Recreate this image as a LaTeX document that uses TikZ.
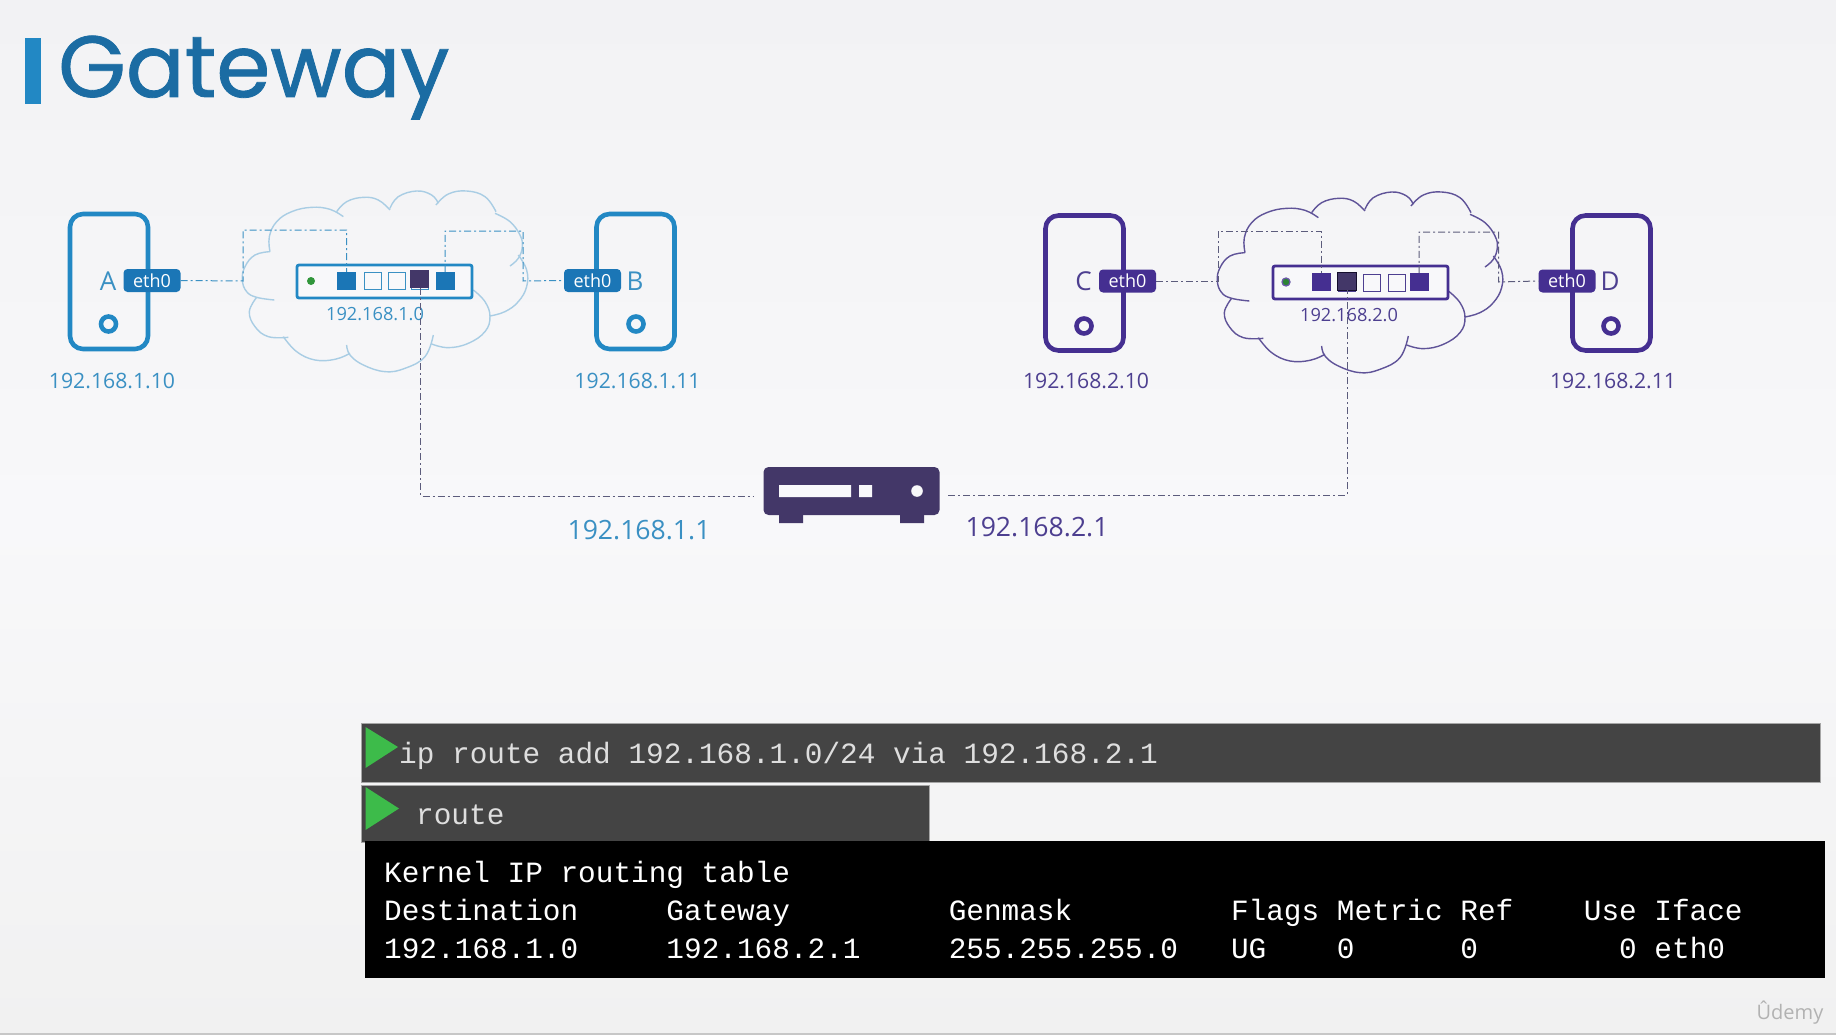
\documentclass[tikz,border=0pt]{standalone}
\usepackage{fontspec}
\setmainfont{Open Sans}
\setmonofont{Liberation Mono}
\newfontfamily\titlefont[FakeBold=0.9]{Poppins}
\usetikzlibrary{calc}
\definecolor{blueM}{HTML}{2288C4}
\definecolor{blueD}{HTML}{1B76B6}
\definecolor{blueT}{HTML}{1B6CA3}
\definecolor{blueL}{HTML}{3A90C3}
\definecolor{cloudB}{HTML}{A9CDE4}
\definecolor{purpM}{HTML}{452F91}
\definecolor{purpL}{HTML}{4D3F90}
\definecolor{cloudP}{HTML}{5F5398}
\definecolor{dark}{HTML}{433768}
\definecolor{linkD}{HTML}{5C5C7C}
\definecolor{barc}{HTML}{444444}
\definecolor{bgT}{HTML}{F2F2F4}
\definecolor{bgM}{HTML}{F8F8FA}
\definecolor{bgB}{HTML}{F1F1F1}
\definecolor{greenT}{HTML}{3DBB4A}
\definecolor{termtxt}{HTML}{DEDEDE}
\tikzset{
  x=1pt,y=-1pt,
  server/.style={draw=#1,line width=4.6pt,rounded corners=13pt,minimum width=78pt,minimum height=135pt,inner sep=0pt},
  led/.style={draw=#1,line width=4.6pt,circle,minimum size=15pt,inner sep=0pt},
  lettr/.style={text=#1,font=\fontsize{26}{26}\selectfont,inner sep=0pt},
  ethtag/.style={fill=#1,rounded corners=4pt,minimum width=57pt,minimum height=23pt,inner sep=0pt,text=white,font=\fontsize{18}{18}\selectfont},
  iplabel/.style={text=#1,font=\fontsize{21.2}{21.2}\selectfont,inner sep=0pt},
  netlabel/.style={text=#1,font=\fontsize{18.2}{18.2}\selectfont,inner sep=0pt},
  gwlabel/.style={text=#1,font=\fontsize{26.6}{26.6}\selectfont,inner sep=0pt},
  switchbox/.style={draw=#1,fill=bgM,line width=2.8pt,rounded corners=2pt,minimum width=175pt,minimum height=33pt,inner sep=0pt},
  portfull/.style={fill=#1,minimum width=19pt,minimum height=18pt,inner sep=0pt},
  portopen/.style={draw=#1,fill=bgM,line width=1pt,minimum width=17pt,minimum height=17pt,inner sep=0pt},
  cloudline/.style={draw=#1,line width=1.4pt,line join=round},
  linkline/.style={draw=#1,line width=1pt,dash pattern=on 7pt off 3pt on 2pt off 3pt},
  bar/.style={fill=barc,draw=black!35,line width=.4pt,inner sep=0pt},
  play/.style={fill=greenT},
  term/.style={font=\ttfamily\fontsize{29.4}{38.5}\selectfont,inner sep=0pt,anchor=base west},
  lobe/.style={smooth,tension=0.7},
}
\newcommand{\cloudoutline}[1]{%
  \draw[cloudline=#1] plot[lobe] coordinates {(105,215) (103,170) (125,125) (170,95) (230,82) (285,88) (325,110)};
  \draw[cloudline=#1] plot[lobe] coordinates {(305,95) (335,65) (385,52) (430,60) (465,90)};
  \draw[cloudline=#1] plot[lobe] coordinates {(465,85) (490,50) (545,33) (590,45) (610,70)};
  \draw[cloudline=#1] plot[lobe] coordinates {(603,75) (640,42) (695,33) (750,50) (783,95)};
  \draw[cloudline=#1] plot[lobe] coordinates {(780,100) (825,125) (855,165) (862,200) (850,235) (825,258)};
  \draw[cloudline=#1] plot[lobe] coordinates {(850,225) (875,270) (875,320) (850,365) (810,395) (765,408)};
  \draw[cloudline=#1] plot[lobe] coordinates {(715,330) (750,365) (765,410) (750,455) (700,490) (640,503) (590,492)};
  \draw[cloudline=#1] plot[lobe] coordinates {(595,465) (570,530) (510,565) (450,575) (385,555) (345,525) (335,495)};
  \draw[cloudline=#1] plot[lobe] coordinates {(345,520) (300,538) (240,540) (185,515) (145,470)};
  \draw[cloudline=#1] plot[lobe] coordinates {(65,352) (43,395) (60,440) (100,470) (160,472)};
  \draw[cloudline=#1] plot[lobe] coordinates {(105,215) (60,225) (30,260) (22,300) (35,335) (65,352) (118,360)};
}
\begin{document}
\begin{tikzpicture}
\useasboundingbox (0,0) rectangle (1836,1035);
\fill[top color=bgT,bottom color=bgB,middle color=bgM] (0,0) rectangle (1836,1035);
\fill[black!22] (0,1033) rectangle (1836,1035);
% title
\fill[blueM] (25,38) rectangle (41,104);
\node[anchor=base west,inner sep=0pt,text=blueT,font=\titlefont\fontsize{87}{87}\selectfont] (title) at (58,97) {Gateway};
% clouds
\begin{scope}[shift={(235,180)},x=.3333pt,y=-.3333pt]
\cloudoutline{cloudB}
\end{scope}
\begin{scope}[shift={(1210,181)},x=.3333pt,y=-.3333pt]
\cloudoutline{cloudP}
\end{scope}
% left network
\node[server=blueM] (A) at (109,281.5) {};
\node[led=blueM] (Aled) at (108.5,324) {};
\node[lettr=blueL] (Al) at (108,281) {A};
\node[ethtag=blueD] (tA) at (152,280.5) {eth0};
\node[iplabel=blueL] (Aip) at (112,381) {192.168.1.10};
\node[server=blueM] (B) at (635.5,281.5) {};
\node[led=blueM] (Bled) at (636,324) {};
\node[lettr=blueL] (Bl) at (635,281) {B};
\node[ethtag=blueD] (tB) at (592.5,280.5) {eth0};
\node[iplabel=blueL] (Bip) at (637.5,381) {192.168.1.11};
% right network
\node[server=purpM] (C) at (1084.5,283) {};
\node[led=purpM] (Cled) at (1084,326) {};
\node[lettr=purpL] (Cl) at (1083.5,281) {C};
\node[ethtag=purpM] (tC) at (1127.5,281) {eth0};
\node[iplabel=purpL] (Cip) at (1086,381) {192.168.2.10};
\node[server=purpM] (D) at (1611.5,283) {};
\node[led=purpM] (Dled) at (1611,326) {};
\node[lettr=purpL] (Dl) at (1610,281) {D};
\node[ethtag=purpM] (tD) at (1567,281) {eth0};
\node[iplabel=purpL] (Dip) at (1613,381) {192.168.2.11};
% switches
\node[switchbox=blueM] (s1) at (384.5,281.5) {};
\node[switchbox=purpM] (s2) at (1360.5,282.5) {};
\node[circle,fill=greenT!80!black,minimum size=8pt,inner sep=0pt] (d1) at (311,281) {};
\node[circle,fill=greenT!70!black,draw=purpM!80,line width=1.3pt,minimum size=8pt,inner sep=0pt] (d2) at (1286,282) {};
\node[portfull=blueD] (p11) at (346.5,281) {};
\node[portopen=blueL] (p12) at (372.5,281) {};
\node[portopen=blueL] (p13) at (396.5,281) {};
\node[portopen=blueL] (p14u) at (419.5,281) {};
\node[portfull=dark] (p14) at (419,279) {};
\node[portfull=blueD] (p15) at (445,281) {};
\node[portfull=purpM] (p21) at (1321.5,282) {};
\node[portopen=purpL] (p22u) at (1347,283) {};
\node[portfull=dark,draw=black!70!purpM,line width=.6pt] (p22) at (1347,281) {};
\node[portopen=purpL] (p23) at (1371.5,282.5) {};
\node[portopen=purpL] (p24) at (1396.5,282.5) {};
\node[portfull=purpM] (p25) at (1419,282) {};
\node[netlabel=blueL] (n1) at (375,314) {192.168.1.0};
\node[netlabel=purpL] (n2) at (1349,315) {192.168.2.0};
% router
\fill[dark] (779,510) rectangle (803,523) (900,510) rectangle (924,523);
\node[fill=dark,rounded corners=5pt,minimum width=176pt,minimum height=48pt,inner sep=0pt] (rt) at (851.5,491) {};
\fill[bgM] (779,485) rectangle (851,497) (859,485) rectangle (872,497);
\fill[bgM] (917,491) circle (5.8);
\node[gwlabel=blueL] (g1) at (639,530) {192.168.1.1};
\node[gwlabel=purpL] (g2) at (1037,527) {192.168.2.1};
% links
\coordinate (c1) at (243,281);
\coordinate (c2) at (243,230);
\coordinate (c3) at (523,231);
\coordinate (c4) at (523,281);
\coordinate (e1) at (1218,281);
\coordinate (e2) at (1218,231);
\coordinate (e3) at (1498.5,232);
\coordinate (e4) at (1498.5,282);
\coordinate (rL) at (753,496);
\coordinate (rR) at (948,495);
\draw[linkline=blueL] (tA.east) -- (c1) -- (c2) -| (p11.north);
\draw[linkline=blueL] (p15.north) |- (c3) -- (c4) -- (tB.west);
\draw[linkline=linkD] (tC.east) -- (e1) -- (e2) -| (p21.north);
\draw[linkline=linkD] (p25.north) |- (e3) -- (e4) -- (tD.west);
\draw[linkline=linkD] ([xshift=1.5pt]p14.south) |- (rL);
\draw[linkline=linkD] (rR) -| (p22.south);
% terminal
\node[bar,minimum width=1459pt,minimum height=59pt] (b1) at (1090.5,752.5) {};
\fill[play] (365.5,727) -- (398,747) -- (365.5,768) -- cycle;
\node[term,text=termtxt] (t1) at (399,763) {ip route add 192.168.1.0/24 via 192.168.2.1};
\node[bar,minimum width=568pt,minimum height=57pt] (b2) at (645,813.5) {};
\fill[play] (365.5,787) -- (399,808.5) -- (365.5,830) -- cycle;
\node[term,text=termtxt] (t2) at (416,824) {route};
\node[fill=black,minimum width=1460.5pt,minimum height=137pt,inner sep=0pt] (blk) at (1094.75,909.5) {};
\node[term,text=white] (r1) at (384,882) {Kernel IP routing table};
\node[term,text=white] (r2) at (384,920) {Destination~~~~~Gateway~~~~~~~~~Genmask~~~~~~~~~Flags Metric Ref~~~~Use Iface};
\node[term,text=white] (r3) at (384,958) {192.168.1.0~~~~~192.168.2.1~~~~~255.255.255.0~~~UG~~~~0~~~~~~0~~~~~~~~0 eth0};
% watermark
\node[text=black!30,inner sep=0pt,font=\fontsize{20}{20}\selectfont] (wm) at (1790,1013) {Ûdemy};
\end{tikzpicture}
\end{document}
